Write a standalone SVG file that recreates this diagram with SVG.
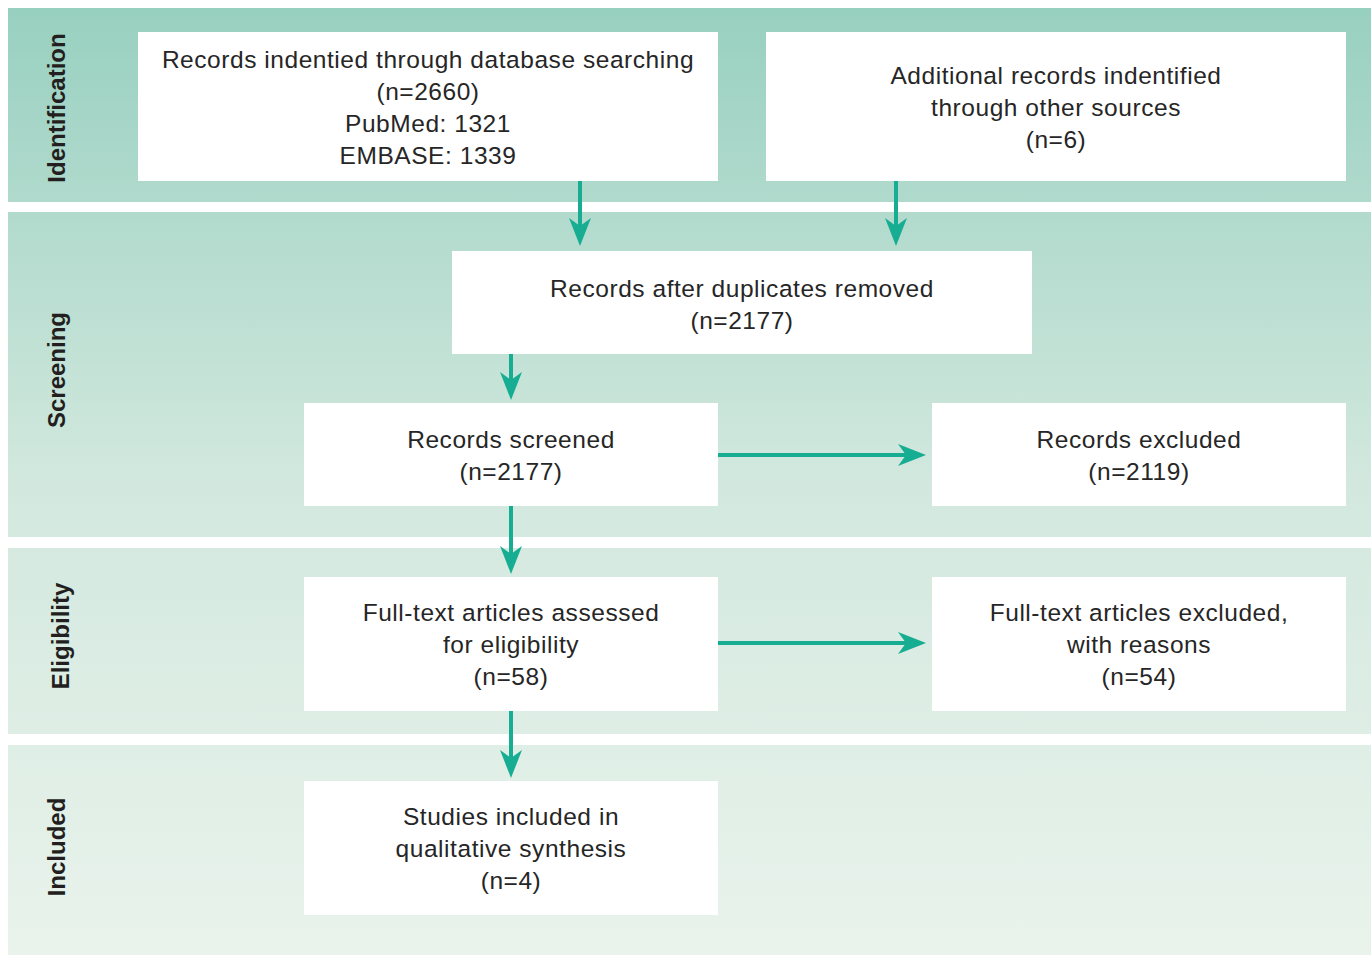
<svg xmlns="http://www.w3.org/2000/svg" width="1371" height="956" viewBox="0 0 1371 956">
<defs>
<linearGradient id="bg" gradientUnits="userSpaceOnUse" x1="0" y1="8" x2="0" y2="955">
<stop offset="0" stop-color="#98d0c0"/>
<stop offset="0.5" stop-color="#d2e8de"/>
<stop offset="1" stop-color="#e9f3ec"/>
</linearGradient>
<marker id="ah" markerUnits="userSpaceOnUse" markerWidth="30" markerHeight="24" refX="22" refY="11" orient="auto" viewBox="0 0 30 22">
<path d="M0,0 L28,11 L0,22 L8,11 Z" fill="#17ad92"/>
</marker>
</defs>
<style>
.band{fill:url(#bg);}
.box{fill:#ffffff;}
.t{font-family:"Liberation Sans",Arial,sans-serif;font-size:24.5px;fill:#262626;text-anchor:middle;letter-spacing:0.55px;}
.lab{font-family:"Liberation Sans",Arial,sans-serif;font-size:24px;font-weight:bold;fill:#231f20;text-anchor:middle;}
.c{stroke:#17ad92;stroke-width:4;fill:none;marker-end:url(#ah);}
</style>
<rect width="1371" height="956" fill="#ffffff"/>
<g id="bands">
<rect class="band" x="8" y="8" width="1363" height="194"/>
<rect class="band" x="8" y="212" width="1363" height="325"/>
<rect class="band" x="8" y="548" width="1363" height="186"/>
<rect class="band" x="8" y="745" width="1363" height="210"/>
</g>
<g id="labels">
<text class="lab" transform="translate(65,108) rotate(-90)">Identification</text>
<text class="lab" transform="translate(65,370) rotate(-90)">Screening</text>
<text class="lab" transform="translate(69,636) rotate(-90)">Eligibility</text>
<text class="lab" transform="translate(65,847) rotate(-90)">Included</text>
</g>
<g id="connectors">
<line class="c" x1="580" y1="181" x2="580" y2="240"/>
<line class="c" x1="896" y1="181" x2="896" y2="240"/>
<line class="c" x1="511" y1="354" x2="511" y2="394"/>
<line class="c" x1="511" y1="506" x2="511" y2="568"/>
<line class="c" x1="511" y1="711" x2="511" y2="772"/>
<line class="c" x1="718" y1="455" x2="920" y2="455"/>
<line class="c" x1="718" y1="643" x2="920" y2="643"/>
</g>
<g id="n1">
<rect class="box" x="138" y="32" width="580" height="149"/>
<text class="t" x="428" y="68">Records indentied through database searching</text>
<text class="t" x="428" y="100">(n=2660)</text>
<text class="t" x="428" y="132">PubMed: 1321</text>
<text class="t" x="428" y="164">EMBASE: 1339</text>
</g>
<g id="n2">
<rect class="box" x="766" y="32" width="580" height="149"/>
<text class="t" x="1056" y="84">Additional records indentified</text>
<text class="t" x="1056" y="116">through other sources</text>
<text class="t" x="1056" y="148">(n=6)</text>
</g>
<g id="n3">
<rect class="box" x="452" y="251" width="580" height="103"/>
<text class="t" x="742" y="297">Records after duplicates removed</text>
<text class="t" x="742" y="329">(n=2177)</text>
</g>
<g id="n4">
<rect class="box" x="304" y="403" width="414" height="103"/>
<text class="t" x="511" y="448">Records screened</text>
<text class="t" x="511" y="480">(n=2177)</text>
</g>
<g id="n5">
<rect class="box" x="932" y="403" width="414" height="103"/>
<text class="t" x="1139" y="448">Records excluded</text>
<text class="t" x="1139" y="480">(n=2119)</text>
</g>
<g id="n6">
<rect class="box" x="304" y="577" width="414" height="134"/>
<text class="t" x="511" y="621">Full-text articles assessed</text>
<text class="t" x="511" y="653">for eligibility</text>
<text class="t" x="511" y="685">(n=58)</text>
</g>
<g id="n7">
<rect class="box" x="932" y="577" width="414" height="134"/>
<text class="t" x="1139" y="621">Full-text articles excluded,</text>
<text class="t" x="1139" y="653">with reasons</text>
<text class="t" x="1139" y="685">(n=54)</text>
</g>
<g id="n8">
<rect class="box" x="304" y="781" width="414" height="134"/>
<text class="t" x="511" y="825">Studies included in</text>
<text class="t" x="511" y="857">qualitative synthesis</text>
<text class="t" x="511" y="889">(n=4)</text>
</g>
</svg>
